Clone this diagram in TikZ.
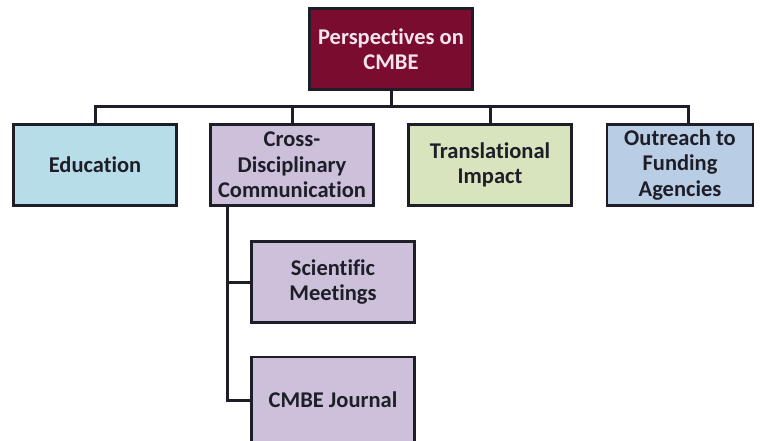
\documentclass[tikz,border=0pt]{standalone}
\usepackage{fontspec}
\setmainfont{Carlito}[Ligatures=NoCommon]
\definecolor{maroon}{RGB}{122,12,48}
\definecolor{cblue}{RGB}{183,221,232}
\definecolor{cpurple}{RGB}{204,192,218}
\definecolor{cgreen}{RGB}{215,228,189}
\definecolor{cblue2}{RGB}{185,205,229}
\definecolor{ink}{RGB}{30,30,40}
\begin{document}
\begin{tikzpicture}[x=1pt,y=-1pt,
  box/.style={draw=ink,line width=2.8pt,minimum width=163pt,minimum height=81pt,
    align=center,font=\fontsize{22.5}{25.5}\selectfont\bfseries,text=ink,inner sep=1pt},
  conn/.style={draw=ink,line width=3pt}]
\useasboundingbox (0,0) rectangle (760,441);
\node[box,fill=maroon,text={rgb,255:red,248;green,228;blue,236}] (top) at (391,49) {Perspectives on\\CMBE};
\node[box,fill=cblue] (edu) at (95,165) {Education};
\node[box,fill=cpurple] (cross) at (292,165) {Cross-\\Disciplinary\\Communication};
\node[box,fill=cgreen] (trans) at (490,165) {Translational\\Impact};
\node[box,fill=cblue2,minimum width=146pt] (out) at (680,165) {Outreach to\\Funding\\Agencies};
\node[box,fill=cpurple] (sci) at (333,282) {Scientific\\Meetings};
\node[box,fill=cpurple,minimum height=86pt] (jour) at (333,400) {CMBE Journal};
\coordinate (hb) at (391,107);
\coordinate (bus) at (227,207);
\draw[conn] (top.south) -- (hb);
\draw[conn] (edu.north) |- (hb) -| (out.north -| 688,0);
\draw[conn] (cross.north) -- (cross.north |- hb);
\draw[conn] (trans.north) -- (trans.north |- hb);
\draw[conn] (cross.south -| bus) |- (jour.west);
\draw[conn] (sci.west) -- (sci.west -| bus);
\end{tikzpicture}
\end{document}
